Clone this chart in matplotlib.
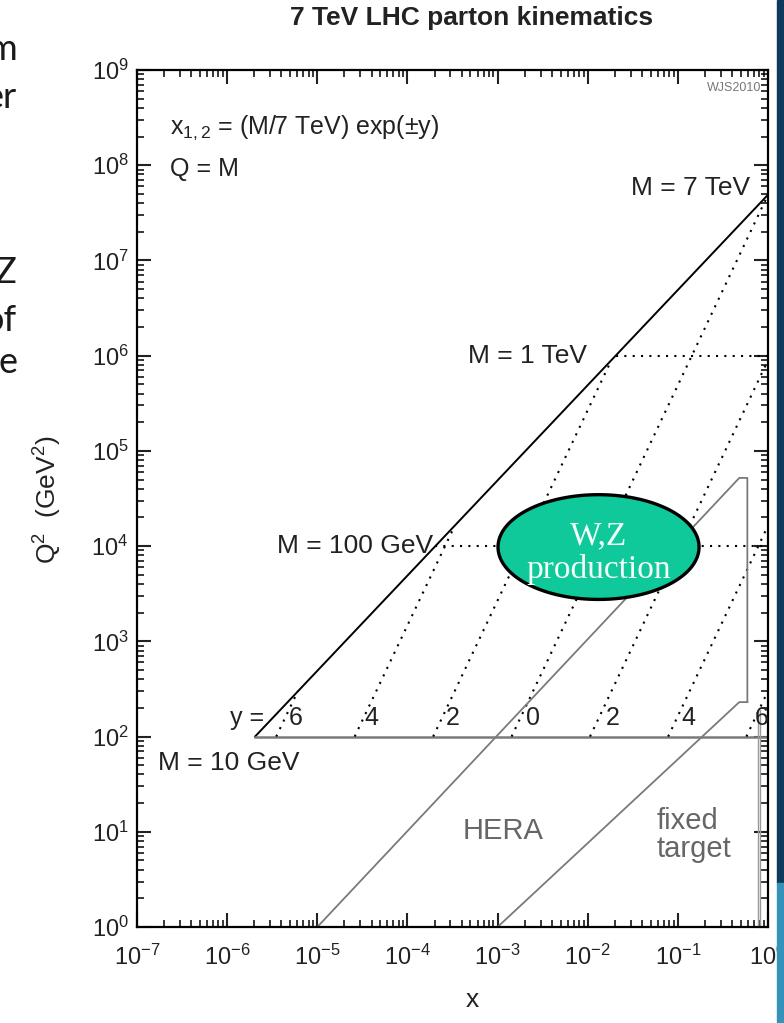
import matplotlib
matplotlib.use("Agg")
import matplotlib.pyplot as plt
from matplotlib.patches import Rectangle
from matplotlib.ticker import LogLocator
import numpy as np

plt.rcParams["font.family"] = ["Liberation Sans", "DejaVu Sans"]
plt.rcParams["mathtext.fontset"] = "custom"
plt.rcParams["mathtext.rm"] = "Liberation Sans"
plt.rcParams["mathtext.it"] = "Liberation Sans:italic"
plt.rcParams["mathtext.default"] = "regular"
plt.rcParams["axes.unicode_minus"] = False

# rapidity lines (dotted), all start on the M = 10 GeV line (Q^2 = 100)
rap_labels = ["6", "4", "2", "0", "2", "4", "6"]
rap_x_start = [3.5e-6, 2.6e-5, 1.93e-4, 1.43e-3, 1.06e-2, 7.8e-2, 0.576]
rap_x_end = [6.1e-6, 3.35e-4, 1.83e-2, 1.0, 1.0, 1.0, 1.0]
rap_q2_end = [301, 1.64e4, 8.97e5, 4.9e7, 8.97e5, 1.64e4, 301]
rap_q2_start = 100
rap_label_x = [5.7e-6, 4.0e-5, 3.2e-4, 2.5e-3, 1.9e-2, 0.13, 0.86]
rap_label_q2 = 157

# constant mass lines
mass_labels = ["M = 10 GeV", "M = 100 GeV", "M = 1 TeV", "M = 7 TeV"]
mass_q2 = [1e2, 1e4, 1e6, 4.9e7]
mass_x_min = [2.04e-6, 2.04e-4, 2.04e-2, 1.0]

# kinematic limit x1*x2 = M^2/s
limit_x = [2.04e-6, 1.0]
limit_q2 = [1e2, 4.9e7]

# HERA and fixed target regions
hera_x = [1e-5, 0.48, 0.59, 0.59]
hera_q2 = [1, 5.2e4, 5.2e4, 230]
ft_x = [1e-3, 0.48, 0.59]
ft_q2 = [1, 230, 230]
ft_edge_x = [0.78, 0.82]
ft_edge_q2 = [1, 190]

# W,Z production blob (centre and half axes in decades)
wz_logx, wz_logq2 = -1.88, 3.99
wz_half_w, wz_half_h = 1.115, 0.55

fig = plt.figure(figsize=(7.84, 10.23), dpi=100)
ax = fig.add_axes([137 / 784, 96 / 1023, 631 / 784, 857 / 1023])
ax.set_xscale("log")
ax.set_yscale("log")
ax.set_xlim(1e-7, 1)
ax.set_ylim(1, 1e9)

dots = (0, (1, 3))
gray = "#7a7a7a"

# solid kinematic boundary
ax.plot(limit_x, limit_q2, color="black", lw=1.4)
# M = 10 GeV solid grey
ax.plot([mass_x_min[0], 1], [mass_q2[0], mass_q2[0]], color=gray, lw=1.8)
# M = 100 GeV and 1 TeV dotted
for xm, q in zip(mass_x_min[1:3], mass_q2[1:3]):
    ax.plot([xm, 1], [q, q], color="black", lw=1.5, ls=dots)

for x0, x1, q1 in zip(rap_x_start, rap_x_end, rap_q2_end):
    ax.plot([x0, x1], [rap_q2_start, q1], color="black", lw=1.5, ls=dots)

ax.plot(hera_x, hera_q2, color=gray, lw=1.3)
ax.plot(ft_x, ft_q2, color=gray, lw=1.3)
for xe in ft_edge_x:
    ax.plot([xe, xe], ft_edge_q2, color="#9a9a9a", lw=1.0)

t = np.linspace(0, 2 * np.pi, 300)
ex = 10 ** (wz_logx + wz_half_w * np.cos(t))
ey = 10 ** (wz_logq2 + wz_half_h * np.sin(t))
ax.fill(ex, ey, facecolor="#0fc99a", edgecolor="black", lw=2.4, zorder=5)
ax.text(10 ** wz_logx, 10 ** (wz_logq2 - 0.06), "W,Z\nproduction", ha="center",
        va="center", family=["Liberation Serif", "DejaVu Serif"], fontsize=24,
        color="#f4fff9", linespacing=1.1, zorder=6)

# labels
ax.text(0.052, 0.932, "x$_{1,2}$ = (M/7 TeV) exp(\u00b1y)", transform=ax.transAxes,
        fontsize=18, va="center", ha="left", color="#222222")
ax.text(0.052, 0.8845, "Q = M", transform=ax.transAxes, fontsize=18, va="center",
        ha="left", color="#222222")
ax.text(0.99, 0.979, "WJS2010", transform=ax.transAxes, fontsize=9, va="center",
        ha="right", color="#777777")
ax.text(0.971, 0.862, mass_labels[3], transform=ax.transAxes, fontsize=19,
        ha="right", va="center", color="#222222")
ax.text(0.713, 0.6667, mass_labels[2], transform=ax.transAxes, fontsize=19,
        ha="right", va="center", color="#222222")
ax.text(0.469, 0.4444, mass_labels[1], transform=ax.transAxes, fontsize=19,
        ha="right", va="center", color="#222222")
ax.text(0.033, 0.191, mass_labels[0], transform=ax.transAxes, fontsize=19,
        ha="left", va="center", color="#222222")
ax.text(0.174, 0.244, "y =", transform=ax.transAxes, fontsize=18,
        ha="center", va="center", color="#222222")
for lab, lx in zip(rap_labels, rap_label_x):
    ax.text(lx, rap_label_q2, lab, fontsize=18, ha="center", va="center",
            color="#222222")
ax.text(0.58, 0.112, "HERA", transform=ax.transAxes, fontsize=21, ha="center",
        va="center", color="#666666")
ax.text(0.824, 0.107, "fixed\ntarget", transform=ax.transAxes, fontsize=21,
        ha="left", va="center", color="#666666", linespacing=1.0)

# axes styling
for sp in ax.spines.values():
    sp.set_linewidth(1.6)
ax.xaxis.set_major_locator(LogLocator(base=10, numticks=20))
ax.xaxis.set_minor_locator(LogLocator(base=10, subs=np.arange(2, 10), numticks=20))
ax.yaxis.set_major_locator(LogLocator(base=10, numticks=20))
ax.yaxis.set_minor_locator(LogLocator(base=10, subs=np.arange(2, 10), numticks=20))
ax.tick_params(which="both", direction="in", top=True, right=True)
ax.tick_params(which="major", length=10, width=1.5, labelsize=17, colors="#222222")
ax.tick_params(which="minor", length=5, width=1.1)
ax.tick_params(axis="x", which="major", pad=13)
ax.tick_params(axis="y", which="major", pad=6)

fig.text(472 / 784, 1 - 18 / 1023, "7 TeV LHC parton kinematics", fontsize=19,
         fontweight="bold", ha="center", va="center", color="#222222")
fig.text(472 / 784, 1 - 1000 / 1023, "x", fontsize=19, ha="center", va="center",
         color="#222222")
fig.text(48 / 784, 1 - 500 / 1023, "Q$^2$  (GeV$^2$)", fontsize=19, rotation=90,
         ha="center", va="center", color="#222222")

# slide fragments and side bar
frag_text = ["m", "er", "Z", "of", "e"]
frag_base = [60, 108, 283, 331, 373]
for s, b in zip(frag_text, frag_base):
    fig.text(17 / 784, 1 - b / 1023, s, fontsize=26, family=["Lato", "DejaVu Sans"],
             ha="right", va="baseline", color="#1a1a1a")
fig.patches.append(Rectangle((777 / 784, 1 - 883 / 1023), 7 / 784, 883 / 1023,
                             transform=fig.transFigure, color="#0d3a5c", zorder=10))
fig.patches.append(Rectangle((777 / 784, 0), 7 / 784, 1 - 883 / 1023,
                             transform=fig.transFigure, color="#3592b8", zorder=10))

fig.savefig("out.png", dpi=100)
